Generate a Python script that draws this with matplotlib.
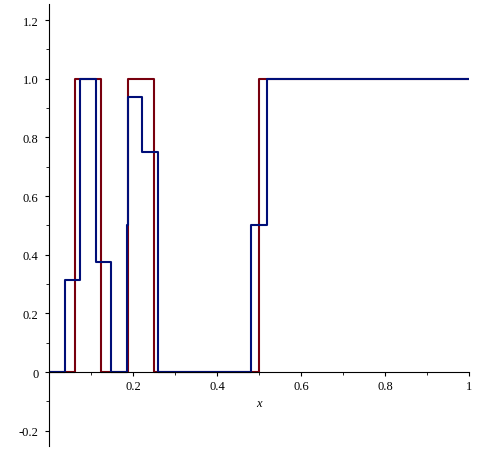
import matplotlib
matplotlib.use("Agg")
import matplotlib.pyplot as plt
from matplotlib.ticker import FixedLocator, MultipleLocator

plt.rcParams['font.family'] = ['Liberation Serif', 'DejaVu Serif']

# step data (value holds from each x until the next one)
red_x = [0, 0.0625, 0.125, 0.1875, 0.25, 0.5, 1.0]
red_y = [0, 1, 0, 1, 0, 1, 1]
blue_x = [0, 0.037, 0.074, 0.111, 0.148, 0.185, 0.189, 0.222, 0.259, 0.481, 0.519, 1.0]
blue_y = [0, 0.3125, 1, 0.375, 0, 0.5, 0.9375, 0.75, 0, 0.5, 1, 1]

xticks = [0.2, 0.4, 0.6, 0.8, 1.0]
xtick_labels = ['0.2', '0.4', '0.6', '0.8', '1']
yticks = [-0.2, 0, 0.2, 0.4, 0.6, 0.8, 1.0, 1.2]
ytick_labels = ['-0.2', '0', '0.2', '0.4', '0.6', '0.8', '1.0', '1.2']

fig = plt.figure(figsize=(4.78, 4.52), dpi=100)
ax = fig.add_axes([0.1025, 0.0111, 0.8787, 0.9778])

ax.step(red_x, red_y, where='post', color='#78000E', lw=1.5)
ax.step(blue_x, blue_y, where='post', color='#000E78', lw=1.5)

ax.set_xlim(0, 1)
ax.set_ylim(-0.252, 1.255)

for s in ['top', 'right']:
    ax.spines[s].set_visible(False)
ax.spines['bottom'].set_position(('data', 0))
ax.spines['left'].set_position(('data', 0))
ax.spines['bottom'].set_linewidth(0.8)
ax.spines['left'].set_linewidth(0.8)

ax.xaxis.set_major_locator(FixedLocator(xticks))
ax.set_xticklabels(xtick_labels)
ax.xaxis.set_minor_locator(MultipleLocator(0.1))
ax.yaxis.set_major_locator(FixedLocator(yticks))
ax.set_yticklabels(ytick_labels)
ax.yaxis.set_minor_locator(MultipleLocator(0.1))

ax.tick_params(which='major', direction='out', length=3, width=0.8, labelsize=9, colors='black')
ax.tick_params(which='minor', direction='out', length=2, width=0.6)
ax.tick_params(axis='x', pad=3)
ax.tick_params(axis='y', pad=4.5)

ax.set_xlabel('x', style='italic', fontsize=9)
ax.xaxis.set_label_coords(0.5, 0.11)

fig.savefig('out.png', dpi=100)
